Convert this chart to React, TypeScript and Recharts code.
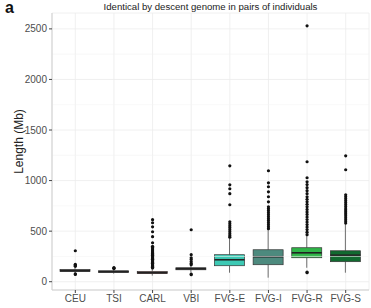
import { ComposedChart, Bar, Scatter, XAxis, YAxis, CartesianGrid, ReferenceLine } from "recharts";

const groups = ["CEU", "TSI", "CARL", "VBI", "FVG-E", "FVG-I", "FVG-R", "FVG-S"];
const q1 = [100, 92, 80, 118, 158, 168, 237, 198];
const median = [109, 99, 89, 128, 217, 247, 286, 262];
const q3 = [120, 108, 100, 138, 267, 316, 336, 306];
const whiskerLow = [89, 80, 60, 90, 89, 40, 138, 89];
const whiskerHigh = [140, 125, 132, 160, 430, 515, 455, 570];
const boxColors = ["#555555", "#555555", "#c9676b", "#555555", "#3cc9b4", "#4d8a7e", "#2fb548", "#116a30"];

const outCEU = [306, 172, 163, 152, 78, 72];
const outTSI = [140, 134, 130];
const outCARL = [613, 583, 543, 494, 445, 385, 350, 338, 326, 315, 305, 296, 287, 278, 270, 262, 254, 246, 238, 230, 222, 214, 206, 198, 190, 182, 174, 166, 158, 150, 143, 136];
const outVBI = [514, 267, 237, 220, 198, 180, 168, 75, 69];
const outFVGE = [1146, 958, 919, 870, 761, 593, 573, 553, 534, 514, 494, 474, 455, 440];
const outFVGI = [1097, 978, 939, 889, 840, 790, 741, 722, 702, 682, 662, 642, 622, 603, 583, 563, 543, 524];
const outFVGR = [2530, 1186, 1028, 988, 960, 930, 900, 870, 840, 815, 790, 765, 740, 715, 690, 665, 640, 615, 590, 565, 540, 515, 490, 465, 89, 95];
const outFVGS = [1245, 1107, 860, 840, 820, 800, 780, 760, 740, 720, 700, 680, 660, 640, 620, 600, 580];
const outliers = [outCEU, outTSI, outCARL, outVBI, outFVGE, outFVGI, outFVGR, outFVGS];

const yTicks = [0, 500, 1000, 1500, 2000, 2500];
const yMinor = [250, 750, 1250, 1750, 2250];

const boxData = groups.map((name, i) => ({
  name,
  base: q1[i],
  box: q3[i] - q1[i],
  q1: q1[i],
  median: median[i],
  q3: q3[i],
  lo: whiskerLow[i],
  hi: whiskerHigh[i],
  color: boxColors[i],
}));

const outlierData = groups.flatMap((name, i) => outliers[i].map((v) => ({ name, v })));

const font = "'Liberation Sans', Arial, sans-serif";

function BoxShape(props: any) {
  const { x, y, width, height, payload } = props;
  if (x == null || y == null) return null;
  const k = height / (payload.q3 - payload.q1);
  const cx = x + width / 2;
  const yMed = y + (payload.q3 - payload.median) * k;
  const yHi = y - (payload.hi - payload.q3) * k;
  const yLo = y + height + (payload.q1 - payload.lo) * k;
  return (
    <g>
      <line x1={cx} x2={cx} y1={yHi} y2={y} stroke="#333" strokeWidth={0.7} />
      <line x1={cx} x2={cx} y1={y + height} y2={yLo} stroke="#333" strokeWidth={0.7} />
      <rect x={x} y={y} width={width} height={height} fill={payload.color} stroke="#333" strokeWidth={0.7} />
      <line x1={x} x2={x + width} y1={yMed} y2={yMed} stroke="#222" strokeWidth={1.6} />
    </g>
  );
}

function Dot(props: any) {
  return <circle cx={props.cx} cy={props.cy} r={1.6} fill="#111" />;
}

export default function App() {
  return (
    <div style={{ position: "absolute", left: 0, top: 0, width: 371, height: 308, fontFamily: font, background: "#fff" }}>
      <div style={{ position: "absolute", left: 5, top: -1, fontSize: 16, fontWeight: "bold", color: "#111" }}>a</div>
      <div style={{ position: "absolute", left: 52, width: 317, top: 1, textAlign: "center", fontSize: 9.6, color: "#222" }}>
        Identical by descent genome in pairs of individuals
      </div>
      <ComposedChart width={371} height={308} data={boxData} margin={{ top: 13, right: 2, bottom: 0, left: 0 }}>
        <CartesianGrid stroke="#ececec" strokeWidth={0.8} />
        {yMinor.map((v) => (
          <ReferenceLine key={v} y={v} stroke="#f4f4f4" strokeWidth={0.6} />
        ))}
        <XAxis
          dataKey="name"
          allowDuplicatedCategory={false}
          padding={{ left: 4, right: 4 }}
          height={18}
          tickSize={3}
          tickLine={{ stroke: "#444" }}
          axisLine={{ stroke: "#cfcfcf" }}
          tick={{ fill: "#4d4d4d", fontSize: 10, fontFamily: font }}
          interval={0}
        />
        <XAxis xAxisId="top" orientation="top" dataKey="name" allowDuplicatedCategory={false} height={0} tick={false} tickLine={false} axisLine={{ stroke: "#cfcfcf" }} />
        <YAxis
          type="number"
          domain={[-82, 2657]}
          ticks={yTicks}
          width={52}
          tickSize={3}
          tickLine={{ stroke: "#444" }}
          axisLine={{ stroke: "#cfcfcf" }}
          tick={{ fill: "#4d4d4d", fontSize: 10, fontFamily: font }}
          label={{
            content: (p: any) => {
              const vb = p.viewBox;
              const cx = vb.x + 20;
              const cy = vb.y + vb.height / 2 - 10;
              return (
                <text x={cx} y={cy} transform={`rotate(-90, ${cx}, ${cy})`} textAnchor="middle" dominantBaseline="middle" fontSize={12} fill="#222" fontFamily={font}>
                  Length (Mb)
                </text>
              );
            },
          }}
        />
        <YAxis yAxisId="right" orientation="right" type="number" domain={[0, 1]} width={0} tick={false} tickLine={false} axisLine={{ stroke: "#cfcfcf" }} />
        <Bar dataKey="base" stackId="b" fill="transparent" barSize={30} isAnimationActive={false} />
        <Bar dataKey="box" stackId="b" barSize={30} shape={<BoxShape />} isAnimationActive={false} />
        <Scatter data={outlierData} dataKey="v" shape={<Dot />} isAnimationActive={false} />
      </ComposedChart>
    </div>
  );
}
